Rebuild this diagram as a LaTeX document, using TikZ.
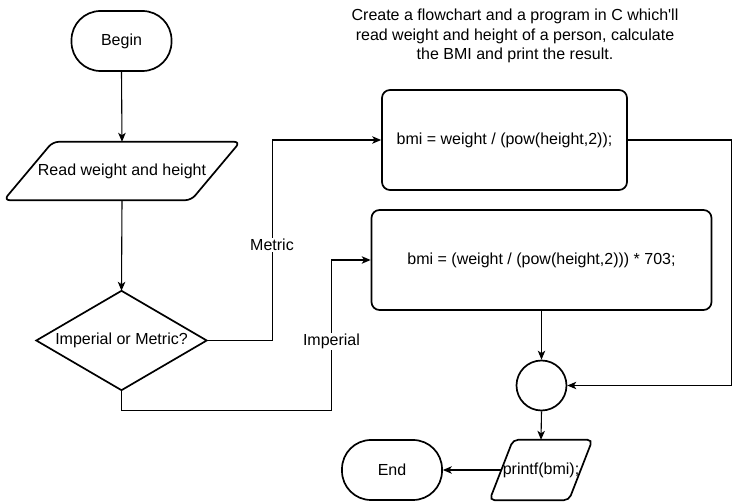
\documentclass[tikz,border=0pt]{standalone}
\usepackage{fontspec}
\setmainfont{Liberation Sans}
\usetikzlibrary{shapes.geometric,arrows.meta}
\begin{document}
\begin{tikzpicture}[x=1pt,y=-1pt,
  font=\fontsize{16}{19.3}\selectfont,
  shapeline/.style={draw=black,line width=1.7pt},
  term/.style={shapeline,rectangle,rounded corners=29pt,minimum width=100pt,minimum height=60pt,inner sep=0pt},
  procbox/.style={shapeline,rectangle,rounded corners=8pt,inner sep=0pt},
  iobox/.style={rectangle,inner sep=0pt},
  joinbox/.style={shapeline,circle,minimum size=50pt,inner sep=0pt},
  conn/.style={draw=black,line width=1.1pt,-{Stealth[length=9pt,width=7.5pt,inset=2.5pt]}},
  lbl/.style={fill=white,inner sep=1pt}
]
\useasboundingbox (0,0) rectangle (740,502);

\node[term] (begin) at (121.5,41) {Begin};
\node[iobox,minimum width=187pt,minimum height=58pt] (read) at (122,171) {Read weight and height};
\draw[shapeline,rounded corners=6pt] ([xshift=24.5pt]read.north west) -- ([xshift=24.5pt]read.north east)
  -- ([xshift=-24.5pt]read.south east) -- ([xshift=-24.5pt]read.south west) -- cycle;
\node[iobox,minimum width=170pt,minimum height=99pt] (dia) at (121.5,340.5) {Imperial or Metric?};
\draw[shapeline,line join=miter] (dia.north) -- (dia.east) -- (dia.south) -- (dia.west) -- cycle;

\node[align=center] (title) at (515,36) {Create a flowchart and a program in C which\textquotesingle ll\\read weight and height of a person, calculate\\the BMI and print the result.};

\node[procbox,minimum width=245pt,minimum height=100pt] (box1) at (504.5,140) {bmi = weight / (pow(height,2));};
\node[procbox,minimum width=340pt,minimum height=100pt] (box2) at (541.5,260) {bmi = (weight / (pow(height,2))) * 703;};
\node[joinbox] (join) at (541.5,385.5) {};
\node[iobox,minimum width=79pt,minimum height=60pt] (out) at (541,470) {printf(bmi);};
\draw[shapeline,rounded corners=5pt] ([xshift=11.75pt]out.north west) -- ([xshift=11.75pt]out.north east)
  -- ([xshift=-11.75pt]out.south east) -- ([xshift=-11.75pt]out.south west) -- cycle;
\node[term] (end) at (392,470) {End};

\draw[conn] (begin.south) -- (read.north);
\draw[conn] (read.south) -- (dia.north);
\draw[conn] (dia.east) -- ++(65.5,0) |- (box1.west);
\draw[conn] (dia.south) -- ++(0,20.5) -- ++(210,0) |- (box2.west);
\draw[conn] (box1.east) -- ++(104,0) |- (join.east);
\draw[conn] (box2.south) -- (join.north);
\draw[conn] (join.south) -- (out.north);
\draw[conn] (out.west) -- (end.east);

\node[lbl] (metric) at (272,245) {Metric};
\node[lbl] (imperial) at (331.5,341.5) {Imperial};
\end{tikzpicture}
\end{document}
